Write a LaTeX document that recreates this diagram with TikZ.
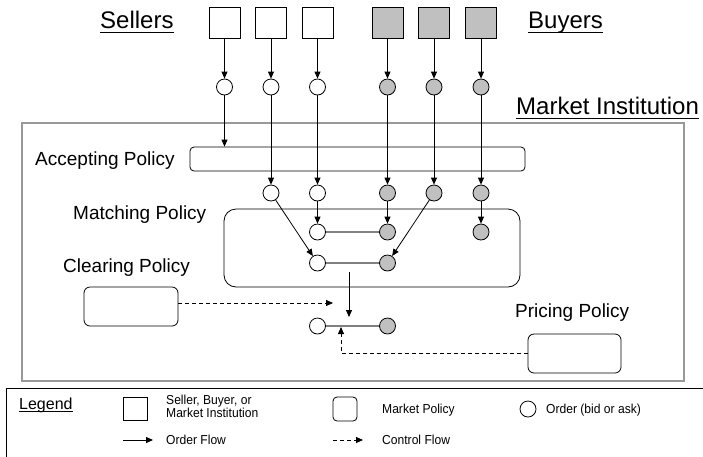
\documentclass[tikz,border=0pt]{standalone}
\usepackage{fontspec}
\setmainfont{Liberation Sans}
\newfontfamily\narrowfont[FakeStretch=0.93]{Liberation Sans}
\usetikzlibrary{arrows.meta}
\definecolor{ordgray}{HTML}{C0C0C0}
\definecolor{linegray}{HTML}{808080}
\definecolor{boxgray}{HTML}{999999}
\tikzset{
  agent/.style={draw, line width=0.8pt, minimum width=31, minimum height=31, inner sep=0},
  buyer/.style={agent, fill=ordgray},
  ord/.style={circle, draw, line width=0.8pt, minimum size=16, inner sep=0, fill=white},
  bord/.style={ord, fill=ordgray},
  pol/.style={draw, line width=0.8pt, rounded corners=#1, inner sep=0},
  flow/.style={-{Triangle[length=7pt,width=6pt]}, line width=0.8pt},
  ctrl/.style={flow, dash pattern=on 4pt off 3pt},
  pairline/.style={draw=linegray, line width=1.2pt},
  big/.style={anchor=base west, inner sep=0, font=\fontsize{24}{28}\selectfont},
  mid/.style={anchor=base west, inner sep=0, font=\fontsize{19}{23}\selectfont},
  small/.style={anchor=base west, inner sep=0, font=\narrowfont\fontsize{13}{12}\selectfont},
  uline/.style={line width=1pt},
}
\begin{document}
\begin{tikzpicture}[x=1pt, y=-1pt]
\useasboundingbox (0,0) rectangle (703,456);
\clip (0,0) rectangle (703,456);
\fill[white] (0,0) rectangle (703,456);

% market institution box
\node[draw=boxgray, line width=1.2pt, minimum width=662, minimum height=258, inner sep=0] (mi) at (353,252) {};

% titles
\node[big] (tsel) at (100,28) {Sellers};
\draw[uline] ([yshift=-4.5pt]tsel.base west) -- ([yshift=-4.5pt]tsel.base east);
\node[big] (tbuy) at (528,28) {Buyers};
\draw[uline] ([yshift=-4.5pt]tbuy.base west) -- ([yshift=-4.5pt]tbuy.base east);
\node[big] (tmi) at (516,114) {Market Institution};
\draw[uline] ([yshift=-4.5pt]tmi.base west) -- ([yshift=-4.5pt]tmi.base east);

% policy labels
\node[mid] (lacc) at (35,165) {Accepting Policy};
\node[mid] (lmat) at (73,219) {Matching Policy};
\node[mid] (lcle) at (63,272) {Clearing Policy};
\node[mid] (lpri) at (515,317) {Pricing Policy};

% policy boxes
\node[pol=4, minimum width=335, minimum height=24] (acc) at (357.5,159) {};
\node[pol=12, minimum width=296, minimum height=78] (mat) at (372,248) {};
\node[pol=6, minimum width=94, minimum height=39] (cle) at (131,306.5) {};
\node[pol=6, minimum width=93, minimum height=39] (pri) at (574.5,353.5) {};

% agents
\node[agent] (s1) at (224.5,22.5) {};
\node[agent] (s2) at (271,22.5) {};
\node[agent] (s3) at (317.5,22.5) {};
\node[buyer] (b1) at (387.5,22.5) {};
\node[buyer] (b2) at (434,22.5) {};
\node[buyer] (b3) at (481,22.5) {};

% orders row 1
\node[ord] (o1) at (224.5,87) {};
\node[ord] (o2) at (271,87) {};
\node[ord] (o3) at (317.5,87) {};
\node[bord] (o4) at (387.5,87) {};
\node[bord] (o5) at (434,87) {};
\node[bord] (o6) at (481,87) {};

% row 2
\node[ord] (p2) at (271,193) {};
\node[ord] (p3) at (317.5,193) {};
\node[bord] (p4) at (387.5,193) {};
\node[bord] (p5) at (434,193) {};
\node[bord] (p6) at (481,193) {};

% pair lines (drawn before circles of rows 3-5)
\coordinate (q3c) at (317.5,232);
\coordinate (q4c) at (387.5,232);
\coordinate (r3c) at (317.5,263);
\coordinate (r4c) at (387.5,263);
\coordinate (t3c) at (317.5,326);
\coordinate (t4c) at (387.5,326);
\draw[pairline] (q3c) -- (q4c);
\draw[pairline] (r3c) -- (r4c);
\draw[pairline] (t3c) -- (t4c);

% row 3
\node[ord] (q3) at (q3c) {};
\node[bord] (q4) at (q4c) {};
\node[bord] (q6) at (481,232) {};
% row 4
\node[ord] (r3) at (r3c) {};
\node[bord] (r4) at (r4c) {};
% row 5
\node[ord] (t3) at (t3c) {};
\node[bord] (t4) at (t4c) {};

% flows agents -> orders
\foreach \a/\o in {s1/o1,s2/o2,s3/o3,b1/o4,b2/o5,b3/o6}
  \draw[flow] (\a) -- (\o);
% orders -> accepting / row 2
\draw[flow] (o1) -- (o1 |- acc.north);
\foreach \a/\o in {o2/p2,o3/p3,o4/p4,o5/p5,o6/p6}
  \draw[flow] (\a) -- (\o);
% row 2 -> matching
\draw[flow] (p3) -- (q3);
\draw[flow] (p4) -- (q4);
\draw[flow] (p6) -- (q6);
\draw[flow] (p2) -- (r3);
\draw[flow] (p5) -- (r4);

% matching -> clearing result
\coordinate (m1) at (349,272);
\coordinate (m2) at (349,317);
\draw[flow] (m1) -- (m2);

% control flows
\coordinate (c1) at (333,303);
\draw[ctrl] (cle.east |- c1) -- (c1);
\coordinate (c2) at (341,327);
\draw[ctrl] (pri.west) -| (c2);

% legend
\node[draw, line width=1pt, minimum width=710, minimum height=90, inner sep=0, anchor=north west] (leg) at (6,388) {};
\node[anchor=base west, inner sep=0, font=\fontsize{16}{18}\selectfont] (tleg) at (19,409) {Legend};
\draw[line width=0.8pt] ([yshift=-2.5pt]tleg.base west) -- ([yshift=-2.5pt]tleg.base east);
\node[agent, minimum width=24, minimum height=23] (lsq) at (135,408.5) {};
\node[small] (lsqt1) at (166,404) {Seller, Buyer, or};
\node[small] (lsqt2) at (166,417.5) {Market Institution};
\node[pol=4, minimum width=24, minimum height=24] (lpol) at (345,409) {};
\node[small] (lpolt) at (382,413) {Market Policy};
\node[ord, minimum size=16] (lord) at (528,409) {};
\node[small] (lordt) at (546,413) {Order (bid or ask)};
\coordinate (lf1) at (123,440);
\coordinate (lf2) at (153,440);
\draw[flow] (lf1) -- (lf2);
\node[small] (lflt) at (166,444) {Order Flow};
\coordinate (lc1) at (333,440);
\coordinate (lc2) at (363,440);
\draw[ctrl] (lc1) -- (lc2);
\node[small] (lctt) at (382,444) {Control Flow};
\end{tikzpicture}
\end{document}
